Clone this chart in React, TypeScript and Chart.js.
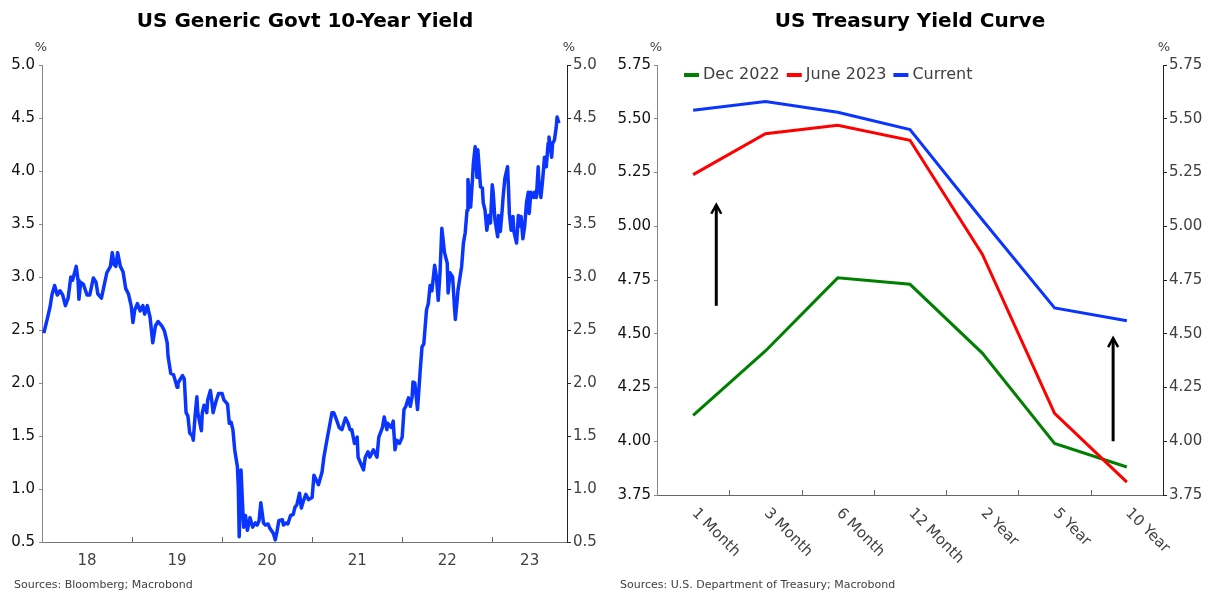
import React, { useEffect, useRef } from 'react';
import { Chart, registerables } from 'chart.js';

Chart.register(...registerables);

const FONT = '"DejaVu Sans", "Liberation Sans", Arial, sans-serif';

// ---------- Left chart: US Generic Govt 10-Year Yield ----------
const yieldDates = [
  2018.02, 2018.06, 2018.09, 2018.11, 2018.14, 2018.17, 2018.20, 2018.23, 2018.26, 2018.29,
  2018.32, 2018.34, 2018.38, 2018.40, 2018.41, 2018.43, 2018.46, 2018.50, 2018.53, 2018.57,
  2018.60, 2018.62, 2018.66, 2018.68, 2018.72, 2018.76, 2018.78, 2018.80, 2018.82, 2018.84,
  2018.87, 2018.90, 2018.93, 2018.96, 2018.99, 2019.01, 2019.03, 2019.06, 2019.09, 2019.12,
  2019.14, 2019.17, 2019.20, 2019.23, 2019.26, 2019.29, 2019.33, 2019.36, 2019.39, 2019.40,
  2019.43, 2019.46, 2019.48, 2019.50, 2019.51, 2019.56, 2019.58, 2019.60, 2019.62, 2019.64,
  2019.67, 2019.68, 2019.70, 2019.72, 2019.73, 2019.77, 2019.78, 2019.80, 2019.83, 2019.84,
  2019.87, 2019.89, 2019.90, 2019.93, 2019.96, 2020.00, 2020.02, 2020.06, 2020.08, 2020.10,
  2020.12, 2020.14, 2020.17, 2020.18, 2020.19, 2020.20, 2020.21, 2020.23, 2020.24, 2020.26,
  2020.28, 2020.31, 2020.34, 2020.37, 2020.39, 2020.41, 2020.43, 2020.46, 2020.48, 2020.51,
  2020.53, 2020.57, 2020.59, 2020.61, 2020.63, 2020.67, 2020.68, 2020.71, 2020.73, 2020.76,
  2020.79, 2020.81, 2020.83, 2020.86, 2020.88, 2020.90, 2020.93, 2020.96, 2021.00, 2021.02,
  2021.07, 2021.11, 2021.13, 2021.17, 2021.19, 2021.22, 2021.24, 2021.28, 2021.30, 2021.33,
  2021.37, 2021.40, 2021.42, 2021.44, 2021.47, 2021.50, 2021.51, 2021.54, 2021.57, 2021.59,
  2021.62, 2021.64, 2021.68, 2021.72, 2021.74, 2021.78, 2021.80, 2021.83, 2021.84, 2021.88,
  2021.90, 2021.92, 2021.94, 2021.97, 2022.00, 2022.02, 2022.04, 2022.07, 2022.09, 2022.11,
  2022.12, 2022.14, 2022.17, 2022.20, 2022.22, 2022.24, 2022.27, 2022.29, 2022.31, 2022.33,
  2022.36, 2022.38, 2022.40, 2022.42, 2022.44, 2022.47, 2022.50, 2022.51, 2022.53, 2022.56,
  2022.58, 2022.59, 2022.61, 2022.62, 2022.66, 2022.68, 2022.70, 2022.72, 2022.73, 2022.76,
  2022.78, 2022.79, 2022.81, 2022.83, 2022.84, 2022.87, 2022.89, 2022.90, 2022.92, 2022.94,
  2022.96, 2022.98, 2023.00, 2023.01, 2023.03, 2023.06, 2023.07, 2023.09, 2023.11, 2023.12,
  2023.14, 2023.17, 2023.18, 2023.19, 2023.21, 2023.23, 2023.24, 2023.27, 2023.29, 2023.30,
  2023.32, 2023.34, 2023.36, 2023.38, 2023.40, 2023.41, 2023.43, 2023.46, 2023.47, 2023.49,
  2023.51, 2023.52, 2023.54, 2023.56, 2023.58, 2023.60, 2023.62, 2023.63, 2023.66, 2023.67,
  2023.69, 2023.71, 2023.72, 2023.74,
];

const yieldValues = [
  2.47, 2.61, 2.72, 2.83, 2.92, 2.83, 2.87, 2.83, 2.73, 2.80,
  3.00, 2.97, 3.10, 2.97, 2.79, 2.95, 2.93, 2.83, 2.83, 2.99,
  2.95, 2.84, 2.80, 2.88, 3.04, 3.10, 3.23, 3.12, 3.10, 3.23,
  3.10, 3.05, 2.89, 2.84, 2.73, 2.57, 2.69, 2.75, 2.68, 2.73,
  2.65, 2.73, 2.62, 2.38, 2.54, 2.58, 2.54, 2.49, 2.38, 2.25,
  2.09, 2.08, 2.02, 1.96, 2.00, 2.07, 2.04, 1.72, 1.69, 1.53,
  1.50, 1.46, 1.69, 1.87, 1.72, 1.55, 1.72, 1.79, 1.72, 1.84,
  1.93, 1.80, 1.72, 1.82, 1.90, 1.90, 1.84, 1.80, 1.62, 1.63,
  1.56, 1.37, 1.21, 1.02, 0.55, 0.87, 1.18, 0.80, 0.64, 0.75,
  0.61, 0.73, 0.64, 0.68, 0.66, 0.70, 0.87, 0.68, 0.66, 0.67,
  0.63, 0.58, 0.52, 0.60, 0.70, 0.71, 0.66, 0.68, 0.67, 0.75,
  0.76, 0.83, 0.85, 0.96, 0.82, 0.88, 0.95, 0.90, 0.92, 1.13,
  1.04, 1.16, 1.30, 1.49, 1.58, 1.72, 1.72, 1.63, 1.58, 1.56,
  1.67, 1.62, 1.56, 1.56, 1.43, 1.49, 1.30, 1.24, 1.18, 1.30,
  1.35, 1.30, 1.37, 1.30, 1.49, 1.58, 1.68, 1.56, 1.62, 1.58,
  1.64, 1.37, 1.46, 1.43, 1.49, 1.75, 1.78, 1.86, 1.78, 1.87,
  2.01, 2.00, 1.75, 2.12, 2.34, 2.37, 2.69, 2.75, 2.92, 2.87,
  3.11, 3.00, 2.78, 3.04, 3.46, 3.23, 3.13, 2.85, 3.04, 3.00,
  2.72, 2.60, 2.78, 2.88, 3.10, 3.32, 3.42, 3.63, 3.92, 3.66,
  3.92, 4.07, 4.23, 3.94, 4.20, 3.85, 3.84, 3.70, 3.63, 3.44,
  3.58, 3.51, 3.87, 3.80, 3.54, 3.38, 3.58, 3.43, 3.63, 3.75,
  3.93, 4.04, 3.85, 3.60, 3.44, 3.57, 3.43, 3.32, 3.58, 3.48,
  3.57, 3.36, 3.48, 3.70, 3.80, 3.60, 3.80, 3.75, 3.80, 3.75,
  4.04, 3.85, 3.75, 3.92, 4.13, 4.04, 4.26, 4.32, 4.13, 4.26,
  4.29, 4.41, 4.51, 4.45,
];

const yearTickLabels = ['18', '19', '20', '21', '22', '23'];
const yearLabelPositions = [2018.5, 2019.5, 2020.5, 2021.5, 2022.5, 2023.415];
const yearBoundaries = [2019, 2020, 2021, 2022, 2023];
const xAxisStart = 2018;
const xAxisEnd = 2023.83;

// ---------- Right chart: US Treasury Yield Curve ----------
const tenors = ['1 Month', '3 Month', '6 Month', '12 Month', '2 Year', '5 Year', '10 Year'];
const dec2022 = [4.12, 4.42, 4.76, 4.73, 4.41, 3.99, 3.88];
const june2023 = [5.24, 5.43, 5.47, 5.40, 4.87, 4.13, 3.81];
const current = [5.54, 5.58, 5.53, 5.45, 5.03, 4.62, 4.56];
const curveNames = ['Dec 2022', 'June 2023', 'Current'];
const curveColors = ['#008000', '#ff0000', '#0a35ff'];
// arrows: category position, start value, end value
const arrowX = [0.32, 5.81];
const arrowFrom = [4.63, 4.0];
const arrowTo = [5.1, 4.48];

type TextItem = { text: string; x: number; y: number; font: string; color: string; align: CanvasTextAlign };

function textPlugin(id: string, items: TextItem[]) {
  return {
    id,
    afterDraw(chart: any) {
      const ctx = chart.ctx as CanvasRenderingContext2D;
      ctx.save();
      ctx.textBaseline = 'alphabetic';
      items.forEach((t) => {
        ctx.font = t.font;
        ctx.fillStyle = t.color;
        ctx.textAlign = t.align;
        ctx.fillText(t.text, t.x, t.y);
      });
      ctx.restore();
    },
  };
}

export default function App() {
  const leftRef = useRef<HTMLCanvasElement>(null);
  const rightRef = useRef<HTMLCanvasElement>(null);

  useEffect(() => {
    const leftTicks = {
      id: 'leftInnerTicks',
      afterDraw(chart: any) {
        const xs = chart.scales.x;
        const ctx = chart.ctx as CanvasRenderingContext2D;
        ctx.save();
        ctx.strokeStyle = '#666';
        ctx.lineWidth = 1;
        yearBoundaries.forEach((b) => {
          const px = Math.round(xs.getPixelForValue(b)) + 0.5;
          ctx.beginPath();
          ctx.moveTo(px, xs.top);
          ctx.lineTo(px, xs.top - 5);
          ctx.stroke();
        });
        ctx.restore();
      },
    };

    const left = new Chart(leftRef.current as HTMLCanvasElement, {
      type: 'line',
      data: {
        datasets: [
          {
            label: 'US 10Y',
            data: yieldDates.map((d, i) => ({ x: d, y: yieldValues[i] })),
            borderColor: '#0a35ff',
            borderWidth: 3.5,
            pointRadius: 0,
            tension: 0,
            borderJoinStyle: 'round',
          },
        ],
      },
      options: {
        animation: false,
        responsive: false,
        maintainAspectRatio: false,
        layout: { padding: { top: 65, left: 0, right: 0, bottom: 0 } },
        plugins: { legend: { display: false }, tooltip: { enabled: false }, title: { display: false } },
        scales: {
          x: {
            type: 'linear',
            min: xAxisStart,
            max: xAxisEnd,
            afterBuildTicks: (s: any) => {
              s.ticks = yearLabelPositions.map((v) => ({ value: v }));
            },
            afterFit: (s: any) => {
              s.height = 52;
            },
            grid: { display: false, drawTicks: false },
            border: { display: true, color: '#777', width: 1 },
            ticks: {
              autoSkip: false,
              maxRotation: 0,
              minRotation: 0,
              padding: 10,
              color: '#404040',
              font: { family: FONT, size: 15 },
              callback: (_v: any, i: number) => yearTickLabels[i],
            },
          },
          y: {
            position: 'left',
            min: 0.5,
            max: 5,
            afterFit: (s: any) => {
              s.width = 42;
            },
            grid: { drawOnChartArea: false, drawTicks: true, tickLength: 3, tickColor: '#888' },
            border: { display: true, color: '#888' },
            ticks: {
              stepSize: 0.5,
              padding: 4,
              color: '#111',
              font: { family: FONT, size: 15 },
              callback: (v: any) => Number(v).toFixed(1),
            },
          },
          yRight: {
            position: 'right',
            min: 0.5,
            max: 5,
            afterFit: (s: any) => {
              s.width = 33;
            },
            grid: { drawOnChartArea: false, drawTicks: true, tickLength: 4, tickColor: '#222' },
            border: { display: true, color: '#222' },
            ticks: {
              stepSize: 0.5,
              padding: 2,
              color: '#404040',
              font: { family: FONT, size: 15 },
              callback: (v: any) => Number(v).toFixed(1),
            },
          },
        },
      } as any,
      plugins: [
        leftTicks,
        textPlugin('leftTexts', [
          { text: 'US Generic Govt 10-Year Yield', x: 305, y: 26.5, font: `bold 20px ${FONT}`, color: '#000', align: 'center' },
          { text: '%', x: 41, y: 51, font: `13px ${FONT}`, color: '#404040', align: 'center' },
          { text: '%', x: 569, y: 51, font: `13px ${FONT}`, color: '#404040', align: 'center' },
          { text: 'Sources: Bloomberg; Macrobond', x: 14, y: 588, font: `11px ${FONT}`, color: '#404040', align: 'left' },
        ]),
      ],
    });

    const rightDecor = {
      id: 'rightDecor',
      afterDraw(chart: any) {
        const xs = chart.scales.x;
        const ys = chart.scales.y;
        const ctx = chart.ctx as CanvasRenderingContext2D;
        const area = chart.chartArea;
        ctx.save();
        // inner tick marks between categories
        ctx.strokeStyle = '#666';
        ctx.lineWidth = 1;
        for (let i = 0; i < tenors.length - 1; i++) {
          const px = Math.round((xs.getPixelForValue(i) + xs.getPixelForValue(i + 1)) / 2) + 0.5;
          ctx.beginPath();
          ctx.moveTo(px, xs.top);
          ctx.lineTo(px, xs.top - 5);
          ctx.stroke();
        }
        // rotated category labels
        ctx.font = `15px ${FONT}`;
        ctx.fillStyle = '#404040';
        ctx.textAlign = 'left';
        ctx.textBaseline = 'middle';
        tenors.forEach((t, i) => {
          const px = xs.getPixelForValue(i);
          ctx.save();
          ctx.translate(px + 1, xs.top + 16);
          ctx.rotate(Math.PI / 4);
          ctx.fillText(t, 0, 0);
          ctx.restore();
        });
        // legend inside plot
        let lx = area.left + 27;
        const ly = 75;
        ctx.font = `16px ${FONT}`;
        ctx.textBaseline = 'middle';
        curveNames.forEach((name, i) => {
          ctx.strokeStyle = curveColors[i];
          ctx.lineWidth = 4;
          ctx.lineCap = 'butt';
          ctx.beginPath();
          ctx.moveTo(lx, ly);
          ctx.lineTo(lx + 15, ly);
          ctx.stroke();
          ctx.fillStyle = '#404040';
          ctx.fillText(name, lx + 19, ly);
          lx += 19 + ctx.measureText(name).width + 7;
        });
        // arrows
        ctx.strokeStyle = '#000';
        ctx.lineCap = 'butt';
        arrowX.forEach((ax, i) => {
          const px = xs.getPixelForValue(ax);
          const y0 = ys.getPixelForValue(arrowFrom[i]);
          const y1 = ys.getPixelForValue(arrowTo[i]);
          ctx.lineWidth = 3;
          ctx.beginPath();
          ctx.moveTo(px, y0);
          ctx.lineTo(px, y1 + 1);
          ctx.stroke();
          ctx.lineWidth = 2.5;
          ctx.beginPath();
          ctx.moveTo(px - 5, y1 + 9);
          ctx.lineTo(px, y1);
          ctx.lineTo(px + 5, y1 + 9);
          ctx.stroke();
        });
        ctx.restore();
      },
    };

    const right = new Chart(rightRef.current as HTMLCanvasElement, {
      type: 'line',
      data: {
        labels: tenors,
        datasets: [
          { label: curveNames[0], data: dec2022, borderColor: curveColors[0], borderWidth: 3, pointRadius: 0, tension: 0, order: 3 },
          { label: curveNames[1], data: june2023, borderColor: curveColors[1], borderWidth: 3, pointRadius: 0, tension: 0, order: 2 },
          { label: curveNames[2], data: current, borderColor: curveColors[2], borderWidth: 3, pointRadius: 0, tension: 0, order: 1 },
        ],
      },
      options: {
        animation: false,
        responsive: false,
        maintainAspectRatio: false,
        layout: { padding: { top: 65, left: 0, right: 0, bottom: 0 } },
        plugins: { legend: { display: false }, tooltip: { enabled: false }, title: { display: false } },
        scales: {
          x: {
            type: 'category',
            offset: true,
            afterFit: (s: any) => {
              s.height = 99;
            },
            grid: { display: false, drawTicks: false },
            border: { display: true, color: '#666', width: 1 },
            ticks: { display: false },
          },
          y: {
            position: 'left',
            min: 3.75,
            max: 5.75,
            afterFit: (s: any) => {
              s.width = 57;
            },
            grid: { drawOnChartArea: false, drawTicks: true, tickLength: 3, tickColor: '#888' },
            border: { display: true, color: '#888' },
            ticks: {
              stepSize: 0.25,
              padding: 3,
              color: '#111',
              font: { family: FONT, size: 15 },
              callback: (v: any) => Number(v).toFixed(2),
            },
          },
          yRight: {
            position: 'right',
            min: 3.75,
            max: 5.75,
            afterFit: (s: any) => {
              s.width = 50;
            },
            grid: { drawOnChartArea: false, drawTicks: true, tickLength: 4, tickColor: '#222' },
            border: { display: true, color: '#222' },
            ticks: {
              stepSize: 0.25,
              padding: 2,
              color: '#404040',
              font: { family: FONT, size: 15 },
              callback: (v: any) => Number(v).toFixed(2),
            },
          },
        },
      } as any,
      plugins: [
        rightDecor,
        textPlugin('rightTexts', [
          { text: 'US Treasury Yield Curve', x: 310, y: 26.5, font: `bold 20px ${FONT}`, color: '#000', align: 'center' },
          { text: '%', x: 56, y: 51, font: `13px ${FONT}`, color: '#404040', align: 'center' },
          { text: '%', x: 564, y: 51, font: `13px ${FONT}`, color: '#404040', align: 'center' },
          { text: 'Sources: U.S. Department of Treasury; Macrobond', x: 20, y: 588, font: `11px ${FONT}`, color: '#404040', align: 'left' },
        ]),
      ],
    });

    return () => {
      left.destroy();
      right.destroy();
    };
  }, []);

  return (
    <div style={{ position: 'absolute', left: 0, top: 0, width: 1213, height: 594, background: '#fff', overflow: 'hidden' }}>
      <canvas ref={leftRef} width={600} height={594} style={{ position: 'absolute', left: 0, top: 0, width: 600, height: 594 }} />
      <canvas ref={rightRef} width={613} height={594} style={{ position: 'absolute', left: 600, top: 0, width: 613, height: 594 }} />
    </div>
  );
}
